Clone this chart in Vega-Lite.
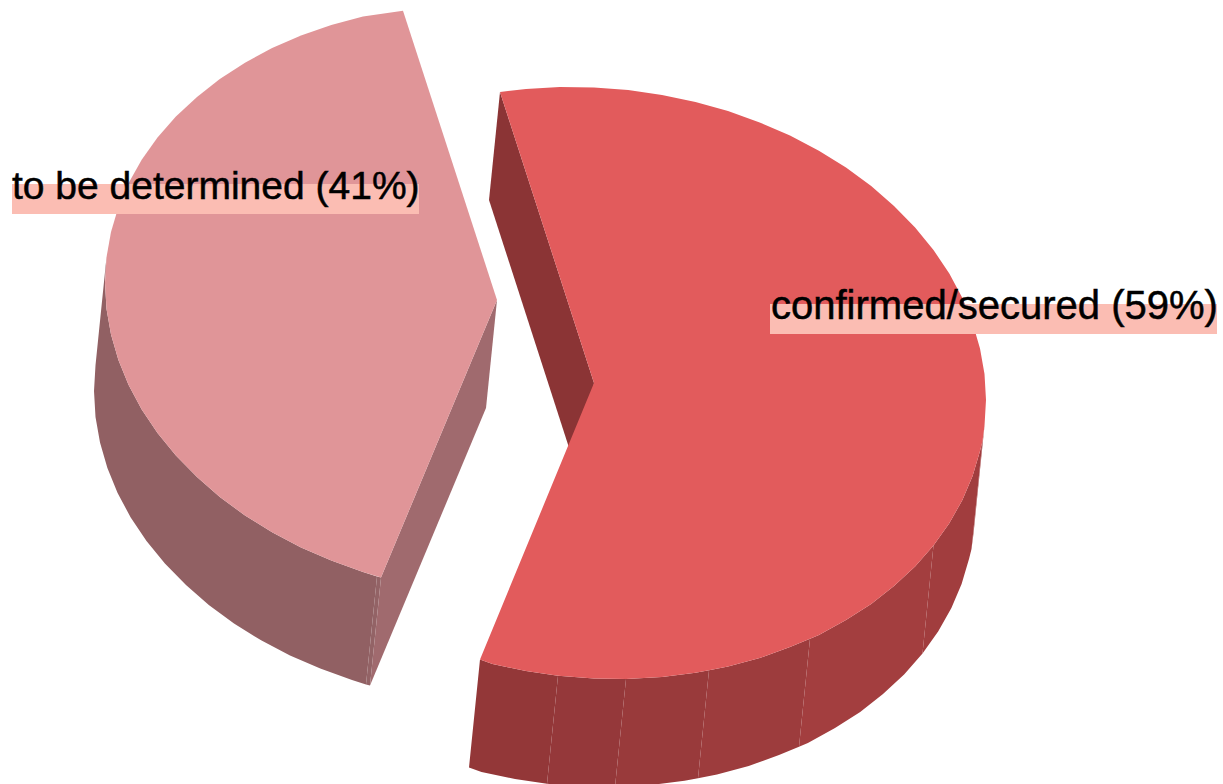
{"$schema":"https://vega.github.io/schema/vega-lite/v6.json","width":1223,"height":784,"padding":0,"autosize":{"type":"fit","contains":"padding"},"background":"white","view":{"stroke":null},
"datasets":{"pieces":[
{"piece":"L outer","seq":1,"x":106.5,"y":257.3},{"piece":"L outer","seq":2,"x":105,"y":283},{"piece":"L outer","seq":3,"x":106.5,"y":308.9},{"piece":"L outer","seq":4,"x":111,"y":334.6},{"piece":"L outer","seq":5,"x":118.4,"y":360.1},{"piece":"L outer","seq":6,"x":128.6,"y":385},{"piece":"L outer","seq":7,"x":141.7,"y":409.5},{"piece":"L outer","seq":8,"x":157.5,"y":433},{"piece":"L outer","seq":9,"x":175.9,"y":455.6},{"piece":"L outer","seq":10,"x":197,"y":477},{"piece":"L outer","seq":11,"x":219.8,"y":497},{"piece":"L outer","seq":12,"x":245,"y":515.5},{"piece":"L outer","seq":13,"x":272.1,"y":532.3},{"piece":"L outer","seq":14,"x":301,"y":547.4},{"piece":"L outer","seq":15,"x":331.3,"y":560.6},{"piece":"L outer","seq":16,"x":363,"y":572},{"piece":"L outer","seq":17,"x":377,"y":576.5},{"piece":"L outer","seq":18,"x":366,"y":684.5},{"piece":"L outer","seq":19,"x":352,"y":680},{"piece":"L outer","seq":20,"x":320.3,"y":668.6},{"piece":"L outer","seq":21,"x":290,"y":655.4},{"piece":"L outer","seq":22,"x":261.1,"y":640.3},{"piece":"L outer","seq":23,"x":234,"y":623.5},{"piece":"L outer","seq":24,"x":208.8,"y":605},{"piece":"L outer","seq":25,"x":186,"y":585},{"piece":"L outer","seq":26,"x":164.9,"y":563.6},{"piece":"L outer","seq":27,"x":146.5,"y":541},{"piece":"L outer","seq":28,"x":130.7,"y":517.5},{"piece":"L outer","seq":29,"x":117.6,"y":493},{"piece":"L outer","seq":30,"x":107.4,"y":468.1},{"piece":"L outer","seq":31,"x":100,"y":442.6},{"piece":"L outer","seq":32,"x":95.5,"y":416.9},{"piece":"L outer","seq":33,"x":94,"y":391},{"piece":"L outer","seq":34,"x":95.5,"y":365.3},
{"piece":"L sliver","seq":1,"x":377,"y":576.5},{"piece":"L sliver","seq":2,"x":381,"y":577.5},{"piece":"L sliver","seq":3,"x":370,"y":685.5},{"piece":"L sliver","seq":4,"x":366,"y":684.5},
{"piece":"L cut","seq":1,"x":497,"y":300},{"piece":"L cut","seq":2,"x":486,"y":408},{"piece":"L cut","seq":3,"x":370,"y":685.5},{"piece":"L cut","seq":4,"x":381,"y":577.5},
{"piece":"L top","seq":1,"x":497,"y":300},{"piece":"L top","seq":2,"x":403,"y":10.7},{"piece":"L top","seq":3,"x":363,"y":16.5},{"piece":"L top","seq":4,"x":331.3,"y":25},{"piece":"L top","seq":5,"x":301,"y":35.6},{"piece":"L top","seq":6,"x":272.1,"y":48.1},{"piece":"L top","seq":7,"x":245,"y":62.7},{"piece":"L top","seq":8,"x":219.8,"y":79},{"piece":"L top","seq":9,"x":197,"y":97},{"piece":"L top","seq":10,"x":175.9,"y":116.6},{"piece":"L top","seq":11,"x":157.5,"y":137.5},{"piece":"L top","seq":12,"x":141.7,"y":159.7},{"piece":"L top","seq":13,"x":128.6,"y":183},{"piece":"L top","seq":14,"x":118.4,"y":207.1},{"piece":"L top","seq":15,"x":111,"y":232},{"piece":"L top","seq":16,"x":106.5,"y":257.3},{"piece":"L top","seq":17,"x":105,"y":283},{"piece":"L top","seq":18,"x":106.5,"y":308.9},{"piece":"L top","seq":19,"x":111,"y":334.6},{"piece":"L top","seq":20,"x":118.4,"y":360.1},{"piece":"L top","seq":21,"x":128.6,"y":385},{"piece":"L top","seq":22,"x":141.7,"y":409.5},{"piece":"L top","seq":23,"x":157.5,"y":433},{"piece":"L top","seq":24,"x":175.9,"y":455.6},{"piece":"L top","seq":25,"x":197,"y":477},{"piece":"L top","seq":26,"x":219.8,"y":497},{"piece":"L top","seq":27,"x":245,"y":515.5},{"piece":"L top","seq":28,"x":272.1,"y":532.3},{"piece":"L top","seq":29,"x":301,"y":547.4},{"piece":"L top","seq":30,"x":331.3,"y":560.6},{"piece":"L top","seq":31,"x":363,"y":572},{"piece":"L top","seq":32,"x":381,"y":577.5},
{"piece":"R inner","seq":1,"x":500,"y":92},{"piece":"R inner","seq":2,"x":489,"y":200},{"piece":"R inner","seq":3,"x":583,"y":491},{"piece":"R inner","seq":4,"x":594,"y":383},
{"piece":"R a","seq":1,"x":480,"y":659.5},{"piece":"R a","seq":2,"x":492.5,"y":664},{"piece":"R a","seq":3,"x":526,"y":671},{"piece":"R a","seq":4,"x":558,"y":675.8},{"piece":"R a","seq":5,"x":547,"y":783.8},{"piece":"R a","seq":6,"x":515,"y":779},{"piece":"R a","seq":7,"x":481.5,"y":772},{"piece":"R a","seq":8,"x":469,"y":767.5},
{"piece":"R b","seq":1,"x":558,"y":675.8},{"piece":"R b","seq":2,"x":594,"y":678.5},{"piece":"R b","seq":3,"x":626,"y":679},{"piece":"R b","seq":4,"x":615,"y":787},{"piece":"R b","seq":5,"x":583,"y":786.5},{"piece":"R b","seq":6,"x":547,"y":783.8},
{"piece":"R c","seq":1,"x":626,"y":679},{"piece":"R c","seq":2,"x":662,"y":677},{"piece":"R c","seq":3,"x":695.5,"y":672.8},{"piece":"R c","seq":4,"x":709,"y":670.2},{"piece":"R c","seq":5,"x":698,"y":778.2},{"piece":"R c","seq":6,"x":684.5,"y":780.8},{"piece":"R c","seq":7,"x":651,"y":785},{"piece":"R c","seq":8,"x":615,"y":787},
{"piece":"R d","seq":1,"x":709,"y":670.2},{"piece":"R d","seq":2,"x":728,"y":666.5},{"piece":"R d","seq":3,"x":759.7,"y":658},{"piece":"R d","seq":4,"x":790,"y":647},{"piece":"R d","seq":5,"x":810,"y":638.8},{"piece":"R d","seq":6,"x":799,"y":746.8},{"piece":"R d","seq":7,"x":779,"y":755},{"piece":"R d","seq":8,"x":748.7,"y":766},{"piece":"R d","seq":9,"x":717,"y":774.5},{"piece":"R d","seq":10,"x":698,"y":778.2},
{"piece":"R e","seq":1,"x":810,"y":638.8},{"piece":"R e","seq":2,"x":818.9,"y":634.9},{"piece":"R e","seq":3,"x":846,"y":620},{"piece":"R e","seq":4,"x":871.2,"y":604},{"piece":"R e","seq":5,"x":894,"y":586},{"piece":"R e","seq":6,"x":915.1,"y":566.4},{"piece":"R e","seq":7,"x":933.5,"y":545.5},{"piece":"R e","seq":8,"x":922.5,"y":653.5},{"piece":"R e","seq":9,"x":904.1,"y":674.4},{"piece":"R e","seq":10,"x":883,"y":694},{"piece":"R e","seq":11,"x":860.2,"y":712},{"piece":"R e","seq":12,"x":835,"y":728},{"piece":"R e","seq":13,"x":807.9,"y":742.9},{"piece":"R e","seq":14,"x":799,"y":746.8},
{"piece":"R f","seq":1,"x":933.5,"y":545.5},{"piece":"R f","seq":2,"x":949.3,"y":523.3},{"piece":"R f","seq":3,"x":962.4,"y":500},{"piece":"R f","seq":4,"x":972.6,"y":475.9},{"piece":"R f","seq":5,"x":980,"y":451},{"piece":"R f","seq":6,"x":982.5,"y":441},{"piece":"R f","seq":7,"x":971.5,"y":549},{"piece":"R f","seq":8,"x":969,"y":559},{"piece":"R f","seq":9,"x":961.6,"y":583.9},{"piece":"R f","seq":10,"x":951.4,"y":608},{"piece":"R f","seq":11,"x":938.3,"y":631.3},{"piece":"R f","seq":12,"x":922.5,"y":653.5},
{"piece":"R g","seq":1,"x":982.5,"y":441},{"piece":"R g","seq":2,"x":984.5,"y":425.7},{"piece":"R g","seq":3,"x":973.5,"y":533.7},{"piece":"R g","seq":4,"x":971.5,"y":549},
{"piece":"R top","seq":1,"x":594,"y":383},{"piece":"R top","seq":2,"x":500,"y":92},{"piece":"R top","seq":3,"x":526,"y":89},{"piece":"R top","seq":4,"x":559.8,"y":87.1},{"piece":"R top","seq":5,"x":594,"y":87.5},{"piece":"R top","seq":6,"x":628.2,"y":90.1},{"piece":"R top","seq":7,"x":662,"y":95},{"piece":"R top","seq":8,"x":695.5,"y":102},{"piece":"R top","seq":9,"x":728,"y":111},{"piece":"R top","seq":10,"x":759.7,"y":122.4},{"piece":"R top","seq":11,"x":790,"y":135.6},{"piece":"R top","seq":12,"x":818.9,"y":150.7},{"piece":"R top","seq":13,"x":846,"y":167.5},{"piece":"R top","seq":14,"x":871.2,"y":186},{"piece":"R top","seq":15,"x":894,"y":206},{"piece":"R top","seq":16,"x":915.1,"y":227.4},{"piece":"R top","seq":17,"x":933.5,"y":250},{"piece":"R top","seq":18,"x":949.3,"y":273.5},{"piece":"R top","seq":19,"x":962.4,"y":298},{"piece":"R top","seq":20,"x":972.6,"y":322.9},{"piece":"R top","seq":21,"x":980,"y":348.4},{"piece":"R top","seq":22,"x":984.5,"y":374.1},{"piece":"R top","seq":23,"x":986,"y":400},{"piece":"R top","seq":24,"x":984.5,"y":425.7},{"piece":"R top","seq":25,"x":982.5,"y":441},{"piece":"R top","seq":26,"x":980,"y":451},{"piece":"R top","seq":27,"x":972.6,"y":475.9},{"piece":"R top","seq":28,"x":962.4,"y":500},{"piece":"R top","seq":29,"x":949.3,"y":523.3},{"piece":"R top","seq":30,"x":933.5,"y":545.5},{"piece":"R top","seq":31,"x":915.1,"y":566.4},{"piece":"R top","seq":32,"x":894,"y":586},{"piece":"R top","seq":33,"x":871.2,"y":604},{"piece":"R top","seq":34,"x":846,"y":620},{"piece":"R top","seq":35,"x":818.9,"y":634.9},{"piece":"R top","seq":36,"x":810,"y":638.8},{"piece":"R top","seq":37,"x":790,"y":647},{"piece":"R top","seq":38,"x":759.7,"y":658},{"piece":"R top","seq":39,"x":728,"y":666.5},{"piece":"R top","seq":40,"x":709,"y":670.2},{"piece":"R top","seq":41,"x":695.5,"y":672.8},{"piece":"R top","seq":42,"x":662,"y":677},{"piece":"R top","seq":43,"x":626,"y":679},{"piece":"R top","seq":44,"x":594,"y":678.5},{"piece":"R top","seq":45,"x":558,"y":675.8},{"piece":"R top","seq":46,"x":526,"y":671},{"piece":"R top","seq":47,"x":492.5,"y":664},{"piece":"R top","seq":48,"x":480,"y":659.5}
],
"labels":[{"label":"to be determined (41%)","x":12,"y":199,"x0":12,"x1":419,"y0":184,"y1":214},{"label":"confirmed/secured (59%)","x":771,"y":319,"x0":770,"x1":1217,"y0":304,"y1":334}]},
"layer":[
{"data":{"name":"pieces"},"mark":{"type":"line","strokeWidth":0,"clip":true,"interpolate":"linear"},
"encoding":{"x":{"field":"x","type":"quantitative","scale":{"domain":[0,1223],"nice":false,"zero":false},"axis":null},
"y":{"field":"y","type":"quantitative","scale":{"domain":[784,0],"nice":false,"zero":false},"axis":null},
"order":{"field":"seq","type":"quantitative"},"detail":{"field":"piece"},
"fill":{"field":"piece","type":"nominal","legend":null,"sort":null,"scale":{"domain":["L outer","L sliver","L cut","L top","R inner","R a","R b","R c","R d","R e","R f","R g","R top"],"range":["#916063","#936366","#a06a6e","#e09598","#8b3435","#933738","#95383a","#993a3b","#9d3c3d","#a33e3f","#a13d3e","#a03d3e","#e25b5c"]}}}},
{"data":{"name":"labels"},"mark":{"type":"rect","color":"#fbbdb3"},"encoding":{"x":{"field":"x0","type":"quantitative"},"x2":{"field":"x1"},"y":{"field":"y0","type":"quantitative"},"y2":{"field":"y1"}}},
{"data":{"name":"labels"},"transform":[{"filter":"datum.x < 100"}],"mark":{"type":"text","align":"left","baseline":"alphabetic","font":"Liberation Sans","fontSize":39,"fill":"black","stroke":"black","strokeWidth":0.5},"encoding":{"x":{"field":"x","type":"quantitative"},"y":{"field":"y","type":"quantitative"},"text":{"field":"label"}}},
{"data":{"name":"labels"},"transform":[{"filter":"datum.x > 100"}],"mark":{"type":"text","align":"left","baseline":"alphabetic","font":"Liberation Sans","fontSize":40,"fill":"black","stroke":"black","strokeWidth":0.5},"encoding":{"x":{"field":"x","type":"quantitative"},"y":{"field":"y","type":"quantitative"},"text":{"field":"label"}}}
]}
